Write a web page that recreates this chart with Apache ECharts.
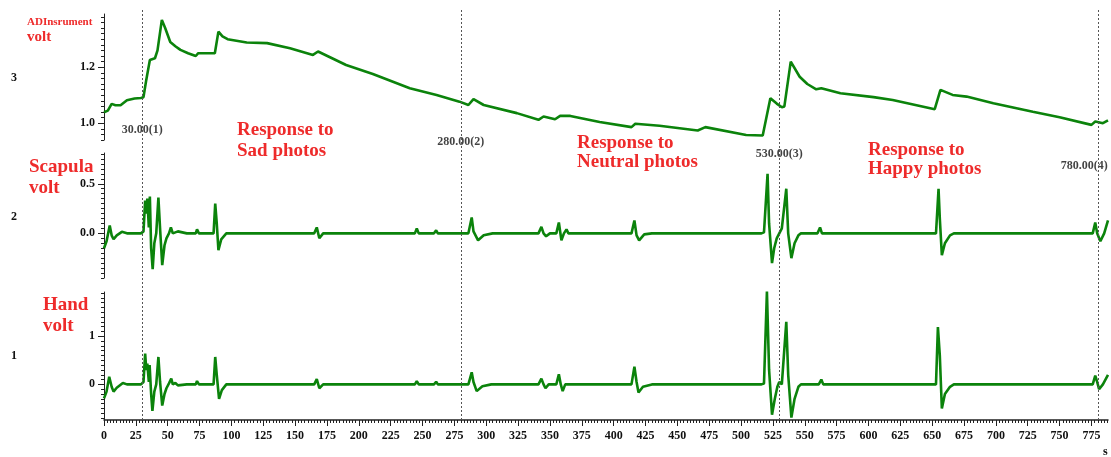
<!DOCTYPE html>
<html>
<head>
<meta charset="utf-8">
<script src="https://cdn.jsdelivr.net/npm/echarts@6/dist/echarts.min.js"></script>
<style>
html,body{margin:0;padding:0;background:#fff;}
#main{width:1111px;height:457px;}
</style>
</head>
<body>
<div id="main"></div>
<script>
// ADInstrument channel (3), volts, [seconds, value]
var adData = [[0,1.039],[3,1.045],[6,1.069],[9,1.064],[13,1.064],[18,1.082],[24,1.088],[29,1.09],[31,1.093],[33,1.15],[36,1.226],[40,1.232],[42,1.26],[45.4,1.369],[48,1.34],[52,1.29],[56,1.275],[60,1.262],[66,1.25],[72,1.24],[74,1.25],[87,1.25],[89.8,1.327],[93,1.31],[97,1.3],[112,1.288],[128,1.286],[146,1.268],[164,1.244],[168,1.256],[190,1.208],[211,1.176],[240,1.125],[261,1.101],[279,1.077],[286,1.065],[290,1.086],[298,1.065],[324,1.036],[341,1.012],[345,1.024],[354,1.014],[358,1.026],[366,1.026],[389,1.004],[414,0.986],[417,0.998],[436,0.991],[466,0.974],[472,0.986],[504,0.958],[517,0.956],[523,1.089],[528,1.07],[532,1.057],[534,1.06],[539,1.22],[546,1.166],[552,1.14],[559,1.121],[563,1.125],[578,1.107],[604,1.093],[619,1.083],[652,1.05],[656.5,1.119],[666,1.101],[677,1.095],[698,1.071],[729,1.041],[750,1.021],[775,0.994],[778,1.006],[784,1.0],[788,1.01]];

// Scapula channel (2)
var scapData = [[0,-0.15],[2,-0.08],[4.5,0.08],[6,-0.02],[7.5,-0.06],[10,-0.02],[14,0.015],[18,0.0],[29,0.0],[31,0.02],[32.3,0.33],[33.2,0.2],[34,0.35],[35.2,0.06],[36,0.37],[37,-0.15],[38.2,-0.36],[39.5,-0.1],[41,0.0],[42.7,0.36],[44,0.05],[45.7,-0.32],[47.5,-0.12],[49,-0.05],[51,0.0],[52.5,0.06],[54,0.0],[58,0.02],[65,0.0],[72,0.0],[73,0.04],[74.5,0.0],[86,0.0],[87.3,0.3],[88.5,0.1],[89.8,-0.17],[92,-0.06],[96,0.0],[165,0.0],[167,0.06],[169,-0.05],[172,0.0],[214,0.0],[215,0.02],[216,0.0],[244,0.0],[245.5,0.05],[247,0.0],[259,0.0],[260.7,0.03],[262,0.0],[286,0.0],[288.6,0.16],[290,0.02],[293.6,-0.07],[298,-0.02],[305,0.0],[341,0.0],[343.3,0.065],[345,0.0],[347,-0.03],[350,0.0],[355,0.0],[357,0.11],[359,-0.07],[361,0.0],[363,0.04],[364.5,0.0],[414,0.0],[416.3,0.13],[418,-0.02],[420,-0.07],[424,-0.01],[430,0.0],[470,0.0],[471,0.015],[472,0.0],[516,0.0],[518,0.01],[520.8,0.6],[522,0.1],[524.3,-0.3],[526,-0.15],[528,-0.05],[530,0.0],[532,0.05],[535.5,0.45],[537,0.0],[539.5,-0.25],[542,-0.1],[545,-0.02],[547,0.0],[560,0.0],[562,0.06],[563.5,0.0],[653,0.0],[655,0.45],[656,0.15],[657.6,-0.22],[660,-0.1],[664,-0.02],[667,0.0],[682,0.0],[683,0.02],[684,0.0],[776,0.0],[778,0.11],[779.5,0.0],[782,-0.08],[785,0.0],[788,0.13]];

// Hand channel (1)
var handData = [[0,-0.29],[2,-0.15],[4.1,0.16],[6,-0.05],[7.5,-0.15],[10,-0.07],[14.8,0.03],[18,0.0],[29,0.0],[31,0.05],[32.3,0.64],[33.2,0.3],[34,0.43],[35.2,0.05],[35.8,0.4],[37,-0.2],[38,-0.55],[39.5,-0.15],[41,0.0],[42.7,0.57],[44,0.05],[45.7,-0.44],[47.5,-0.2],[49,-0.08],[51,0.02],[52.8,0.12],[54,0.0],[56,0.03],[58,-0.02],[65,0.0],[72,0.0],[73,0.07],[74.5,0.0],[86,0.0],[87.3,0.57],[88.5,0.2],[90.3,-0.3],[92.5,-0.12],[96,0.0],[165,0.0],[167,0.11],[169,-0.08],[172,0.0],[214,0.0],[215,0.04],[216.5,0.0],[244,0.0],[245.5,0.07],[247,0.0],[259,0.0],[260.7,0.055],[262,0.0],[286,0.0],[288.6,0.25],[290,0.05],[292.5,-0.14],[297,-0.04],[304,0.0],[341,0.0],[343.3,0.12],[345,0.0],[346.5,-0.08],[349,0.0],[355,0.0],[357,0.21],[358.5,0.0],[360,-0.14],[362,0.0],[363,0.03],[365,0.0],[414,0.0],[416.3,0.37],[418,0.05],[419.5,-0.17],[423,-0.05],[430,0.0],[440,0.0],[441,0.04],[442,0.0],[516,0.0],[518,0.02],[520.3,1.93],[522,0.3],[524.3,-0.63],[526.5,-0.3],[528.5,-0.05],[530,0.05],[532,0.0],[535.5,1.3],[537,0.2],[539.5,-0.69],[542,-0.3],[545,-0.05],[547,0.0],[561,0.0],[563,0.1],[564.5,0.0],[653,0.0],[654.5,1.19],[656,0.6],[657.6,-0.5],[660,-0.2],[664,-0.05],[667,0.0],[682,0.0],[683,0.03],[684,0.0],[776,0.0],[778,0.18],[779.5,0.05],[781,-0.1],[784,0.0],[788,0.2]];

// event markers
var markerTimes = [30, 280, 530, 780];
var markerLabels = ['30.00(1)', '280.00(2)', '530.00(3)', '780.00(4)'];

// tick labels
var adTicks = [1.0, 1.2];
var scapTicks = [0.0, 0.5];
var handTicks = [0, 1];

function steps(a, b, s) {
    var out = [];
    for (var i = 0; a + i * s <= b + 1e-9; i++) out.push(+(a + i * s).toFixed(4));
    return out;
}
var xTicks = steps(0, 775, 25);
var xMinor = steps(0, 787.5, 2.5);

var XMAX = 788;
var FONT = '"Liberation Serif", "DejaVu Serif", serif';
var GREEN = '#0b830b';
var RED = '#ee2b2b';
var INK = '#111';
var AXIS = '#222';

var chart = echarts.init(document.getElementById('main'));

function hiddenX(grid) {
    return { type: 'value', gridIndex: grid, min: 0, max: XMAX, show: false };
}
function mainY(grid, min, max, ticks, fmt) {
    return {
        type: 'value', gridIndex: grid, min: min, max: max, position: 'left',
        axisLine: { show: true, onZero: false, lineStyle: { color: AXIS, width: 1 } },
        axisTick: { show: true, length: 6, customValues: ticks, lineStyle: { color: AXIS } },
        axisLabel: { show: true, customValues: ticks, margin: 9, color: INK, fontFamily: FONT, fontWeight: 'bold', fontSize: 12,
            formatter: fmt },
        splitLine: { show: false }
    };
}
function minorY(grid, min, max, step) {
    return {
        type: 'value', gridIndex: grid, min: min, max: max, position: 'left',
        axisLine: { show: false, onZero: false },
        axisTick: { show: true, length: 3, customValues: steps(Math.ceil(min / step) * step, max, step), lineStyle: { color: AXIS } },
        axisLabel: { show: false },
        splitLine: { show: false }
    };
}
function trace(xi, yi, data) {
    return {
        type: 'line', xAxisIndex: xi, yAxisIndex: yi, data: data,
        symbol: 'none', showSymbol: false, animation: false, z: 3,
        lineStyle: { color: GREEN, width: 2.6 }
    };
}
function txt(x, y, text, size, color, lh) {
    return {
        type: 'text', x: x, y: y, z: 10,
        style: { text: text, fill: color, font: 'bold ' + size + 'px ' + FONT,
            align: 'left', verticalAlign: 'middle', lineHeight: lh || size }
    };
}

// label heights of the marker texts, as fraction of the overlay grid
var markerLabelY = [0.704, 0.675, 0.646, 0.617];

var option = {
    backgroundColor: '#fff',
    animation: false,
    grid: [
        { left: 104, right: 3, top: 14, height: 126 },
        { left: 104, right: 3, top: 153, height: 125 },
        { left: 104, right: 3, top: 292, height: 128 },
        { left: 104, right: 3, top: 8, height: 412 }
    ],
    xAxis: [
        hiddenX(0),
        hiddenX(1),
        {
            type: 'value', gridIndex: 2, min: 0, max: XMAX, position: 'bottom',
            axisLine: { show: true, onZero: false, lineStyle: { color: AXIS, width: 1.5 } },
            axisTick: { show: true, length: 6, customValues: xTicks, lineStyle: { color: AXIS } },
            axisLabel: { show: true, customValues: xTicks, margin: 10, color: INK, fontFamily: FONT, fontWeight: 'bold', fontSize: 12 },
            splitLine: { show: false }
        },
        {
            type: 'value', gridIndex: 2, min: 0, max: XMAX, position: 'bottom',
            axisLine: { show: false, onZero: false },
            axisTick: { show: true, length: 3, customValues: xMinor, lineStyle: { color: AXIS } },
            axisLabel: { show: false },
            splitLine: { show: false }
        },
        hiddenX(3)
    ],
    yAxis: [
        mainY(0, 0.94, 1.39, adTicks, function (v) { return v.toFixed(1); }),
        minorY(0, 0.94, 1.39, 0.02),
        mainY(1, -0.45, 0.81, scapTicks, function (v) { return v.toFixed(1); }),
        minorY(1, -0.45, 0.81, 0.05),
        mainY(2, -0.74, 1.92, handTicks, function (v) { return String(Math.round(v)); }),
        minorY(2, -0.74, 1.92, 0.1),
        { type: 'value', gridIndex: 3, min: 0, max: 1, show: false }
    ],
    series: [
        {
            type: 'scatter', xAxisIndex: 4, yAxisIndex: 6, symbolSize: 0, z: 1, silent: true,
            data: markerTimes.map(function (t, i) {
                var item = { name: markerLabels[i], value: [t, markerLabelY[i]] };
                if (i === markerTimes.length - 1) item.label = { align: 'right', offset: [10, 0] };
                return item;
            }),
            label: { show: true, position: 'inside', formatter: '{b}', color: INK,
                fontFamily: FONT, fontWeight: 'bold', fontSize: 12 },
            markLine: {
                silent: true, symbol: 'none', animation: false,
                label: { show: false },
                lineStyle: { type: [2, 2], color: '#555', width: 1 },
                data: markerTimes.map(function (t) { return { xAxis: t }; })
            }
        },
        trace(0, 0, adData),
        trace(1, 2, scapData),
        trace(2, 4, handData)
    ],
    graphic: [
        txt(27, 22, 'ADInsrument', 11, RED),
        txt(27, 37, 'volt', 15, RED),
        txt(29, 177.5, 'Scapula\nvolt', 19, RED, 21),
        txt(43, 315.5, 'Hand\nvolt', 19, RED, 21),
        txt(237, 140.5, 'Response to\nSad photos', 19, RED, 21),
        txt(577, 152.5, 'Response to\nNeutral photos', 19, RED, 19),
        txt(868, 159.5, 'Response to\nHappy photos', 19, RED, 19),
        txt(11, 78, '3', 12, INK),
        txt(11, 217, '2', 12, INK),
        txt(11, 356, '1', 12, INK),
        txt(1103, 452, 's', 12, INK)
    ]
};
chart.setOption(option);
window.addEventListener('resize', function () { chart.resize(); });
</script>
</body>
</html>
